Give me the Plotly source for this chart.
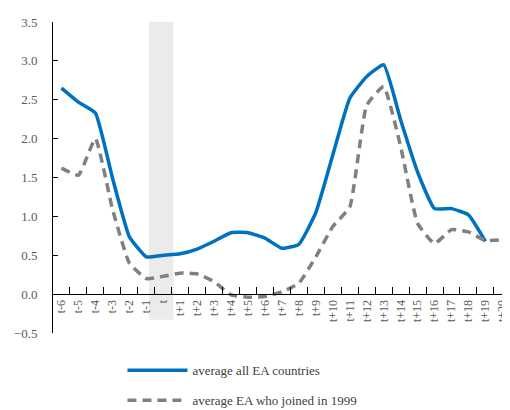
import plotly.graph_objects as go

categories = ["t-6", "t-5", "t-4", "t-3", "t-2", "t-1", "t"] + [f"t+{i}" for i in range(1, 21)]

all_ea = [2.65, 2.47, 2.33, 1.50, 0.74, 0.48, 0.50, 0.52, 0.58, 0.68, 0.79, 0.79, 0.72,
          0.59, 0.64, 1.05, 1.79, 2.52, 2.80, 2.95, 2.24, 1.57, 1.10, 1.10, 1.02, 0.68, None]
ea_1999 = [1.62, 1.53, 2.00, 1.10, 0.40, 0.20, 0.23, 0.27, 0.26, 0.16, -0.01, -0.04, -0.03,
           0.03, 0.14, 0.48, 0.87, 1.12, 2.43, 2.67, 1.90, 0.91, 0.65, 0.83, 0.80, 0.69, 0.70]

names = ["average all EA countries", "average EA who joined in 1999"]

serif = "Liberation Serif, Times New Roman, serif"

fig = go.Figure()
fig.add_trace(go.Scatter(
    x=categories, y=all_ea, name=names[0], mode="lines",
    line=dict(color="#0070C0", width=3.5, shape="spline", smoothing=0.4),
    legendgroup="a",
))
fig.add_trace(go.Scatter(
    x=categories, y=ea_1999, name=names[1], mode="lines",
    line=dict(color="#808080", width=3.5, dash="9px,6px", shape="spline", smoothing=0.4),
    legendgroup="b",
))

# highlighted period band
fig.add_shape(type="rect", xref="x", yref="y", x0=5.16, x1=6.6, y0=-0.33, y1=3.59,
              fillcolor="#EBEBEB", line_width=0, layer="below")

# the page has an 8px body margin, so the figure is sized to fit inside the window
fig.update_layout(
    width=502, height=402,
    margin=dict(l=45, r=0, t=14, b=77, autoexpand=False),
    plot_bgcolor="white", paper_bgcolor="white",
    font=dict(family=serif, color="#595959", size=13),
    showlegend=True,
    legend=dict(x=0.152, y=-0.072, xanchor="left", yanchor="top", orientation="v",
                font=dict(family=serif, size=13, color="#404040"),
                tracegroupgap=10, itemwidth=60, bgcolor="rgba(0,0,0,0)"),
    xaxis=dict(
        type="category", range=[-0.5, 26.45], automargin=False,
        anchor="free", position=0.125,
        showline=True, linecolor="black", linewidth=1,
        ticks="inside", ticklen=7, tickcolor="black", tickson="boundaries",
        tickangle=-90, tickfont=dict(family=serif, size=12, color="#595959"),
        showgrid=False, zeroline=False,
    ),
    yaxis=dict(
        range=[-0.5, 3.5], dtick=0.5, tickformat=".1f", automargin=False,
        showline=True, linecolor="black", linewidth=1,
        ticks="inside", ticklen=5, tickcolor="black",
        tickfont=dict(family=serif, size=13, color="#595959"),
        showgrid=False, zeroline=False, ticklabelstandoff=12,
    ),
)

fig.write_html("out.html")
